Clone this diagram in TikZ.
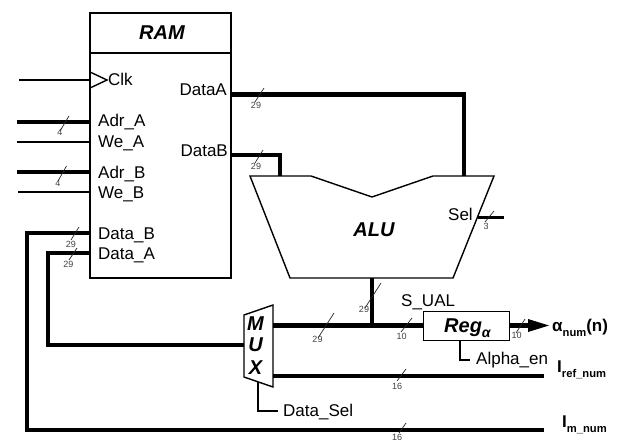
\documentclass[tikz,border=0pt]{standalone}
\usepackage{fontspec}
\setmainfont{Liberation Sans}
\newcommand{\fs}[1]{\fontsize{#1}{#1}\selectfont}
\newcommand{\lowered}[2]{\raisebox{-5pt}{\fs{#1}#2}}
\tikzset{
  x=1pt,y=-1pt,
  thin wire/.style={draw=black,line width=1.3pt},
  bus/.style={draw=black,line width=4.6pt},
  selbus/.style={draw=black,line width=3pt},
  outline/.style={draw=black,line width=1.4pt},
  tick/.style={draw=black!85,line width=0.7pt},
  width label/.style={font=\fs{9},text=black!75,inner sep=0pt},
  pin/.style={font=\fs{17},inner sep=0pt,anchor=base west},
  pinr/.style={font=\fs{17},inner sep=0pt,anchor=base east},
  title/.style={font=\fs{20}\bfseries\itshape,inner sep=0pt},
  sig/.style={font=\fs{17}\bfseries,inner sep=0pt,anchor=base west},
}
\begin{document}
\begin{tikzpicture}
\useasboundingbox (0,0) rectangle (618,441);
% RAM
\node[outline,minimum width=141pt,minimum height=265pt,inner sep=0] (ram) at (160.5,145.5) {};
\draw[outline] (ram.west |- 0,53) -- (ram.east |- 0,53);
\node[title] (ramt) at (162,33) {RAM};
\draw[outline] (90,72) -- (107,80) -- (90,88);
\coordinate (ClkP) at (90,80); \coordinate (ClkS) at (19,80);
\coordinate (AdrAP) at (90,122); \coordinate (AdrAS) at (17,122);
\coordinate (WeAP) at (90,142); \coordinate (WeAS) at (17,142);
\coordinate (AdrBP) at (90,172); \coordinate (AdrBS) at (17,172);
\coordinate (WeBP) at (90,192); \coordinate (WeBS) at (18,192);
\coordinate (DBP) at (90,233); \coordinate (DAP) at (90,253);
\coordinate (OutA) at (231,94.5); \coordinate (OutB) at (231,155);
\node[pin] (clk) at (108,85.5) {Clk};
\node[pin] (adra) at (98,127) {Adr\_A};
\node[pin] (wea) at (98,147) {We\_A};
\node[pin] (adrb) at (98,178) {Adr\_B};
\node[pin] (web) at (98,198) {We\_B};
\node[pin] (datab) at (98,239) {Data\_B};
\node[pin] (dataa) at (98,259) {Data\_A};
\node[pinr] (douta) at (227,96) {DataA};
\node[pinr] (doutb) at (228,157) {DataB};
% ALU
\draw[outline] (250,176) -- (311,176) -- (372,197) -- (433,176) -- (494,176) -- (453,278) -- (290,278) -- cycle;
\coordinate (AluA) at (464,176); \coordinate (AluB) at (280,176); \coordinate (AluO) at (372,278); \coordinate (AluS) at (478,217); \coordinate (SelE) at (504,217);
\node[title] (alut) at (374,230) {ALU};
\node[pin] (selt) at (448,220) {Sel};
% MUX
\draw[outline,fill=white] (244,315) -- (273,305) -- (273,387) -- (244,377) -- cycle;
\node[title] (mm) at (255.5,324) {M};
\node[title] (mu) at (255.5,345) {U};
\node[title] (mx) at (255.5,368) {X};
\coordinate (MuxL) at (244,345); \coordinate (MuxR1) at (273,325.5); \coordinate (MuxR2) at (273,376); \coordinate (MuxB) at (258,382);
% Reg
\node[outline,minimum width=86pt,minimum height=29pt,inner sep=0,anchor=north west] (reg) at (423,311) {};
\node[font=\fs{20}\bfseries\itshape,inner sep=0,anchor=base west] (regt) at (444,332) {Reg\lowered{14}{α}};
\coordinate (RegL) at (423,325.5); \coordinate (RegR) at (509,325.5); \coordinate (RegB) at (460,340);
\coordinate (Join) at (372,325.5);
% wires
\draw[thin wire] (ClkS) -- (ClkP);
\draw[bus] (AdrAS) -- (AdrAP);
\draw[thin wire] (WeAS) -- (WeAP);
\draw[bus] (AdrBS) -- (AdrBP);
\draw[thin wire] (WeBS) -- (WeBP);
\draw[bus,line join=miter] (OutA) -- (AluA |- OutA) -- (AluA);
\draw[bus,line join=miter] (OutB) -- (AluB |- OutB) -- (AluB);
\draw[selbus] (AluS) -- (SelE);
\draw[bus] (AluO) -- (Join);
\draw[bus] (MuxR1) -- (RegL);
\coordinate (ArrowB) at (528,325.5); \coordinate (ArrowT) at (549,325.5);
\draw[bus] (RegR) -- (ArrowB);
\fill[black] (ArrowT) -- (528,319) -- (528,332) -- cycle;
\coordinate (IrefE) at (544,376); \coordinate (ImE) at (544,430);
\draw[bus] (MuxR2) -- (IrefE);
\draw[bus,line join=miter] (DAP) -- (48,253) -- (48,345) -- (MuxL);
\draw[bus,line join=miter] (DBP) -- (27,233) -- (27,430) -- (ImE);
\coordinate (DSE) at (278,411); \coordinate (AEE) at (470,360);
\draw[thin wire] (MuxB) -- (MuxB |- DSE) -- (DSE);
\draw[thin wire] (RegB) -- (RegB |- AEE) -- (AEE);
% labels
\node[pin] (dsel) at (283,416) {Data\_Sel};
\node[pin] (aen) at (476,364) {Alpha\_en};
\node[pin] (sual) at (401,306) {S\_UAL};
\node[sig] (an) at (552,331) {α\lowered{11.2}{num}(n)};
\node[sig] (iref) at (557,372) {I\lowered{11.2}{ref\_num}};
\node[sig] (im) at (562,427) {I\lowered{11.2}{m\_num}};
% width ticks
\foreach \xa/\ya/\xb/\yb/\lx/\ly/\t in {
 69/116/60/131/60/132.5/4, 66.5/166/58/181/58/183/4,
 264/88/255/102/256/105/29, 263/150/255/163/256/166/29,
 79/227/71/240/71/244/29, 77/248/69/260/68.5/264/29,
 494/211/485/222/486/226/3, 381/283/365/308/364/309/29,
 334/313/318/338/317.5/339/29, 412/318/401/332/401.5/336/10,
 525/319/516/333/516.5/335/10, 406/369/397/381/397/386/16,
 406/423/399/433/397/437.3/16}
 {\draw[tick] (\xa,\ya) -- (\xb,\yb);
  \node[width label] at (\lx,\ly) {\t};}
\end{tikzpicture}
\end{document}
